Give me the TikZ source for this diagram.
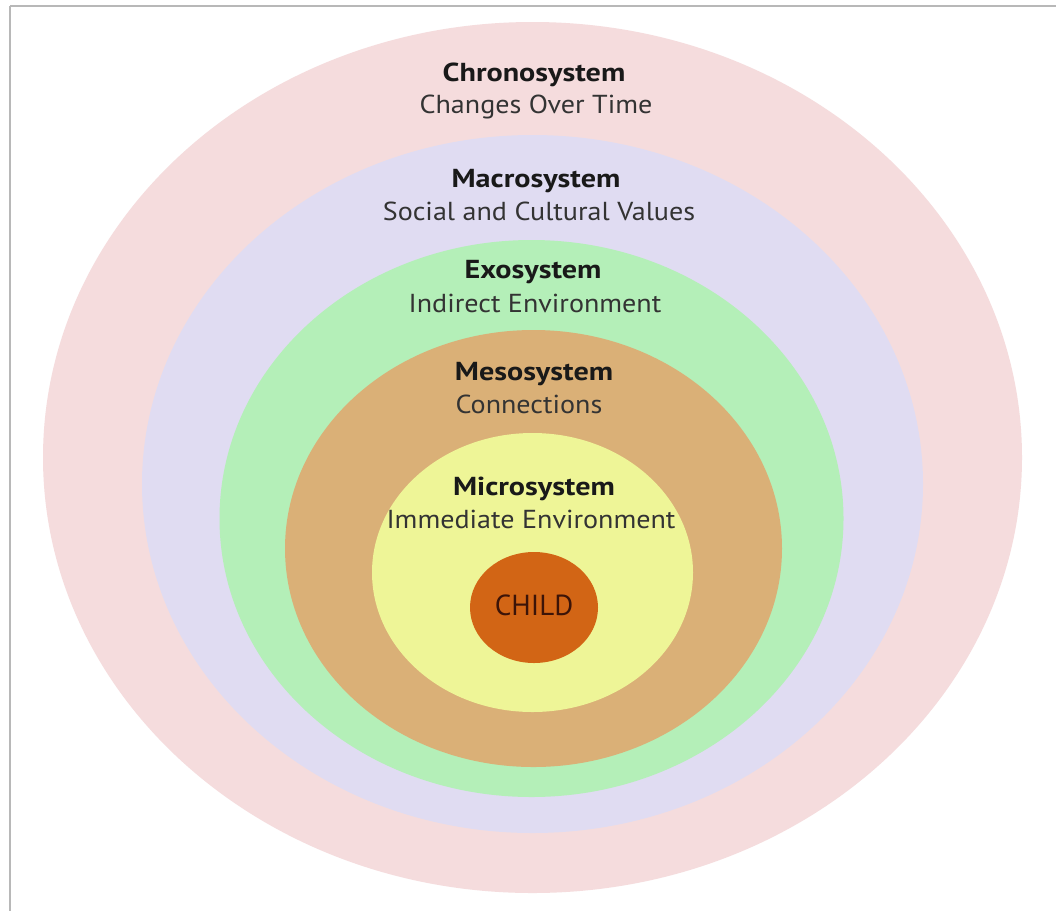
\documentclass[tikz,border=0pt]{standalone}
\usepackage{fontspec}
\usepackage{graphicx}
\setmainfont{PT Sans}
% horizontally widened labels
\newcommand{\widebold}[1]{\scalebox{1.16}[1]{\bfseries #1}}
\newcommand{\widereg}[1]{\scalebox{1.08}[1]{#1}}
\begin{document}
\begin{tikzpicture}[x=1pt,y=-1pt,
  title/.style={font=\fontsize{26}{30}\selectfont, text=black!90, anchor=base, inner sep=0pt},
  subtitle/.style={font=\fontsize{26}{30}\selectfont, text=black!80, anchor=base, inner sep=0pt},
  childlabel/.style={font=\fontsize{29}{33}\selectfont, text=childtext, anchor=base, inner sep=0pt}]
\definecolor{chrono}{HTML}{F5DCDD}
\definecolor{macro}{HTML}{E0DCF2}
\definecolor{exo}{HTML}{B4EFB8}
\definecolor{meso}{HTML}{DAB077}
\definecolor{micro}{HTML}{EEF597}
\definecolor{childfill}{HTML}{D26515}
\definecolor{childtext}{HTML}{3C1408}
\definecolor{frame}{HTML}{B8B8B8}
\useasboundingbox (0,0) rectangle (1056,911);
\fill[white] (0,0) rectangle (1056,911);
% page frame lines
\draw[frame, line width=1.2pt] (10,6) -- (1056,6);
\draw[frame, line width=1.2pt] (10,6) -- (10,911);
% nested system ellipses, outermost first
\fill[chrono] (532.5,457.5) ellipse [x radius=489.5, y radius=435.5];
\fill[macro]  (532.5,484)   ellipse [x radius=390.5, y radius=349];
\fill[exo]    (531.5,518.5) ellipse [x radius=312,   y radius=278.5];
\fill[meso]   (533.5,548.5) ellipse [x radius=248.5, y radius=218.5];
\fill[micro]  (532.5,572.5) ellipse [x radius=160.5, y radius=139.5];
\fill[childfill] (534,607.5) ellipse [x radius=64, y radius=55.5];
% labels
\node[title]    (chronoT) at (534,81)  {\widebold{Chronosystem}};
\node[subtitle] (chronoS) at (536,113) {\widereg{Changes Over Time}};
\node[title]    (macroT)  at (536,187) {\widebold{Macrosystem}};
\node[subtitle] (macroS)  at (539,220) {\widereg{Social and Cultural Values}};
\node[title]    (exoT)    at (533,278) {\widebold{Exosystem}};
\node[subtitle] (exoS)    at (535,312) {\widereg{Indirect Environment}};
\node[title]    (mesoT)   at (534,380) {\widebold{Mesosystem}};
\node[subtitle] (mesoS)   at (529,413) {\widereg{Connections}};
\node[title]    (microT)  at (534,495) {\widebold{Microsystem}};
\node[subtitle] (microS)  at (531,528) {\widereg{Immediate Environment}};
\node[childlabel] (child) at (534,615) {CHILD};
\end{tikzpicture}
\end{document}
